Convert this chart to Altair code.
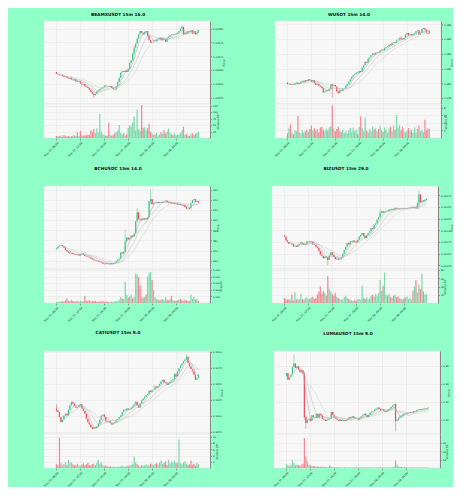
import altair as alt
import pandas as pd

# ---------------- shared axis data ----------------
tick_pos = [0, 16, 32, 48, 64, 80]
tick_labels = ["May 27, 08:00", "May 27, 12:00", "May 27, 16:00",
               "May 27, 20:00", "May 28, 00:00", "May 28, 04:00"]
ma_windows = [5, 10, 17]
ma_colors = ["#a0a0a0", "#b5b5b5", "#c8c8c8"]

# ---------------- BEAMXUSDT ----------------
beamx_title = "BEAMXUSDT 15m 16.0"
beamx_open0 = 0.005644
beamx_close = [
    0.005638, 0.005635, 0.005632, 0.005634, 0.005629, 0.005626, 0.005628, 0.005623, 0.005620, 0.005623,
    0.005617, 0.005614, 0.005617, 0.005611, 0.005608, 0.005610, 0.005602, 0.005599, 0.005601, 0.005593,
    0.005590, 0.005586, 0.005580, 0.005572, 0.005566, 0.005560, 0.005566, 0.005574, 0.005578, 0.005583,
    0.005587, 0.005590, 0.005595, 0.005593, 0.005592, 0.005590, 0.005593, 0.005586, 0.005583, 0.005581,
    0.005593, 0.005608, 0.005623, 0.005641, 0.005647, 0.005644, 0.005649, 0.005644, 0.005656, 0.005677,
    0.005686, 0.005710, 0.005731, 0.005746, 0.005764, 0.005779, 0.005791, 0.005785, 0.005779, 0.005788,
    0.005791, 0.005773, 0.005758, 0.005749, 0.005752, 0.005757, 0.005755, 0.005761, 0.005764, 0.005767,
    0.005758, 0.005764, 0.005761, 0.005752, 0.005767, 0.005770, 0.005776, 0.005779, 0.005778, 0.005779,
    0.005782, 0.005785, 0.005791, 0.005800, 0.005806, 0.005779, 0.005785, 0.005782, 0.005791, 0.005788,
    0.005794, 0.005782, 0.005790, 0.005779, 0.005785, 0.005794]
beamx_vol = [
    8, 6, 7, 10, 5, 12, 9, 6, 8, 7,
    6, 9, 11, 7, 22, 8, 28, 10, 9, 12,
    10, 14, 12, 30, 22, 35, 18, 37, 20, 93,
    25, 15, 12, 8, 10, 59, 14, 9, 12, 18,
    22, 30, 50, 20, 14, 18, 10, 16, 40, 50,
    45, 60, 83, 30, 111, 35, 28, 128, 40, 42,
    30, 38, 55, 25, 18, 12, 15, 20, 10, 14,
    22, 16, 30, 18, 25, 37, 20, 15, 12, 18,
    10, 14, 12, 20, 30, 44, 12, 16, 10, 8,
    14, 18, 12, 16, 20, 25]
beamx_wicks = {25: (0.005551, 0.005566), 84: (0.005800, 0.005812), 52: (0.005705, 0.005738)}
beamx_pticks = [0.00555, 0.00560, 0.00565, 0.00570, 0.00575, 0.00580]
beamx_pdomain = [0.005529, 0.005827]
beamx_vticks = [25, 50, 75, 100, 125]
beamx_vdomain = [0, 132]

# ---------------- WUSDT ----------------
w_title = "WUSDT 15m 14.0"
w_open0 = 0.08012
w_close = [
    0.07990, 0.07995, 0.07979, 0.07990, 0.07984, 0.08001, 0.08012, 0.07990, 0.08001, 0.08023,
    0.08035, 0.08023, 0.08046, 0.08035, 0.08057, 0.08046, 0.08023, 0.08046, 0.08001, 0.07979,
    0.07990, 0.07967, 0.07956, 0.07934, 0.07878, 0.07889, 0.07911, 0.07900, 0.07923, 0.07990,
    0.07967, 0.07979, 0.07956, 0.07889, 0.07867, 0.07911, 0.07900, 0.07928, 0.07934, 0.07967,
    0.07990, 0.08023, 0.08057, 0.08091, 0.08113, 0.08124, 0.08147, 0.08141, 0.08169, 0.08158,
    0.08214, 0.08247, 0.08292, 0.08281, 0.08337, 0.08359, 0.08382, 0.08404, 0.08393, 0.08415,
    0.08427, 0.08421, 0.08449, 0.08460, 0.08449, 0.08483, 0.08494, 0.08505, 0.08527, 0.08516,
    0.08550, 0.08561, 0.08550, 0.08583, 0.08595, 0.08617, 0.08606, 0.08595, 0.08617, 0.08662,
    0.08684, 0.08651, 0.08662, 0.08651, 0.08673, 0.08684, 0.08707, 0.08718, 0.08662, 0.08684,
    0.08740, 0.08751, 0.08729, 0.08684, 0.08673, 0.08718]
w_vol = [
    1.2, 2.5, 3.6, 1.5, 1.0, 2.0, 1.8, 5.8, 1.5, 1.2,
    2.0, 1.4, 1.8, 2.2, 1.6, 2.4, 3.3, 2.0, 2.6, 1.9,
    2.4, 1.5, 2.8, 3.0, 2.2, 1.8, 2.5, 2.0, 2.8, 3.2,
    8.7, 2.6, 1.8, 2.4, 3.0, 2.0, 1.6, 2.2, 1.4, 1.8,
    1.2, 2.0, 2.6, 1.5, 2.8, 1.8, 2.2, 1.0, 3.0, 5.7,
    2.6, 1.8, 5.4, 2.0, 1.5, 2.4, 1.8, 3.0, 2.2, 2.6,
    1.8, 2.4, 3.3, 2.0, 1.6, 2.8, 2.2, 1.5, 2.6, 3.0,
    1.8, 3.3, 2.2, 6.1, 2.8, 3.4, 2.0, 3.0, 1.8, 1.5,
    2.0, 2.6, 1.8, 2.2, 1.4, 2.8, 1.6, 2.4, 3.3, 1.8,
    2.2, 1.5, 4.9, 2.0, 2.6, 2.4]
w_wicks = {30: (0.07808, 0.07995), 76: (0.08590, 0.08640)}
w_pticks = [0.078, 0.080, 0.082, 0.084, 0.086, 0.088]
w_pdomain = [0.077213, 0.088453]
w_vticks = [2, 4, 6, 8]
w_vdomain = [0, 9]

# ---------------- BCHUSDC ----------------
bch_title = "BCHUSDC 15m 14.0"
bch_open0 = 371.0
bch_close = [
    372, 374, 375, 375.5, 374.5, 373, 370.5, 369, 368, 367,
    367.5, 366.5, 366, 365.5, 366, 365, 366.5, 367, 365.5, 364.5,
    364, 363.5, 363, 362, 361, 360.5, 360, 359.5, 359, 358.5,
    358, 357, 356.5, 357.5, 357, 356.5, 357.5, 356.5, 357.5, 358,
    359.5, 361, 362, 368, 367, 369, 379, 383, 381, 382.5,
    385, 384, 387, 399, 408, 401, 400, 401.5, 400.5, 402,
    401, 403, 419, 421, 416, 417, 417.5, 418, 417, 418,
    417.5, 418.5, 419, 419.5, 418, 417, 417.5, 416.5, 417, 416,
    416.5, 415.5, 416, 415, 414.5, 415, 413, 411.5, 411, 412.5,
    417, 420, 421, 418.5, 419, 417.5]
bch_vol = [
    150, 200, 180, 300, 250, 200, 400, 700, 350, 250,
    500, 300, 200, 250, 300, 200, 350, 250, 200, 1100,
    300, 250, 400, 200, 300, 250, 350, 200, 150, 250,
    200, 300, 150, 250, 200, 150, 100, 200, 150, 250,
    300, 250, 500, 900, 700, 600, 3200, 1200, 800, 1000,
    1300, 700, 900, 4500, 4300, 3900, 2700, 1000, 800, 900,
    1300, 4000, 4600, 4700, 3500, 2000, 900, 600, 500, 400,
    500, 600, 400, 900, 500, 400, 600, 1100, 400, 350,
    300, 400, 500, 600, 400, 300, 500, 400, 300, 350,
    1300, 600, 900, 500, 700, 300]
bch_wicks = {46: (368, 391), 54: (398, 412), 63: (416, 431), 90: (410, 418)}
bch_pticks = [360, 370, 380, 390, 400, 410, 420, 430]
bch_pdomain = [351.7, 434]
bch_vticks = [1000, 2000, 3000, 4000, 5000]
bch_vdomain = [0, 5150]

# ---------------- BIZUSDT ----------------
biz_title = "BIZUSDT 15m 29.0"
biz_open0 = 0.011900
biz_close = [
    0.011872, 0.011785, 0.011750, 0.011713, 0.011720, 0.011700, 0.011656, 0.011670, 0.011650, 0.011692,
    0.011710, 0.011740, 0.011720, 0.011690, 0.011710, 0.011760, 0.011770, 0.011750, 0.011764, 0.011700,
    0.011690, 0.011650, 0.011620, 0.011560, 0.011476, 0.011450, 0.011404, 0.011440, 0.011420, 0.011368,
    0.011460, 0.011530, 0.011480, 0.011430, 0.011382, 0.011400, 0.011370, 0.011380, 0.011420, 0.011500,
    0.011584, 0.011650, 0.011728, 0.011700, 0.011764, 0.011750, 0.011785, 0.011760, 0.011740, 0.011800,
    0.011872, 0.011900, 0.011944, 0.011880, 0.011836, 0.011900, 0.011944, 0.011980, 0.012052, 0.012030,
    0.012124, 0.012150, 0.012232, 0.012290, 0.012376, 0.012412, 0.012380, 0.012400, 0.012420, 0.012412,
    0.012448, 0.012440, 0.012462, 0.012450, 0.012484, 0.012470, 0.012460, 0.012470, 0.012462, 0.012470,
    0.012465, 0.012475, 0.012480, 0.012484, 0.012495, 0.012505, 0.012490, 0.012505, 0.012470, 0.012592,
    0.012772, 0.012600, 0.012640, 0.012620, 0.012650, 0.012680]
biz_vol = [
    12, 10, 8, 9, 7, 20, 6, 26, 8, 10,
    9, 22, 10, 8, 12, 14, 9, 11, 13, 15,
    10, 12, 20, 28, 40, 22, 30, 25, 18, 66,
    35, 28, 22, 18, 25, 15, 12, 10, 8, 9,
    14, 18, 12, 10, 8, 6, 5, 7, 6, 9,
    10, 8, 42, 12, 10, 14, 8, 12, 18, 20,
    15, 22, 18, 25, 56, 30, 42, 74, 20, 18,
    22, 15, 12, 18, 20, 14, 16, 12, 10, 8,
    12, 14, 16, 10, 12, 8, 30, 40, 56, 25,
    45, 34, 72, 28, 20, 22]
biz_wicks = {29: (0.011260, 0.011440), 64: (0.012300, 0.012460), 90: (0.012450, 0.012850)}
biz_pticks = [0.01125, 0.01150, 0.01175, 0.01200, 0.01225, 0.01250, 0.01275]
biz_pdomain = [0.011173, 0.012952]
biz_vticks = [20, 40, 60, 80]
biz_vdomain = [0, 83]

# ---------------- CATIUSDT ----------------
cati_title = "CATIUSDT 15m 9.0"
cati_open0 = 0.10115
cati_close = [
    0.10088, 0.10062, 0.09983, 0.09904, 0.09941, 0.10009, 0.10036, 0.10009, 0.10099, 0.10167,
    0.10220, 0.10194, 0.10152, 0.10130, 0.10141, 0.10167, 0.10183, 0.10115, 0.10078, 0.10036,
    0.09957, 0.09904, 0.09867, 0.09825, 0.09798, 0.09825, 0.09809, 0.09835, 0.09878, 0.09941,
    0.10009, 0.10025, 0.09983, 0.09920, 0.09904, 0.09920, 0.09888, 0.09867, 0.09888, 0.09904,
    0.09941, 0.09957, 0.09983, 0.10009, 0.10062, 0.10099, 0.10088, 0.10115, 0.10099, 0.10109,
    0.10130, 0.10152, 0.10183, 0.10220, 0.10167, 0.10130, 0.10194, 0.10246, 0.10273, 0.10299,
    0.10325, 0.10341, 0.10394, 0.10373, 0.10404, 0.10415, 0.10457, 0.10441, 0.10468, 0.10499,
    0.10536, 0.10563, 0.10520, 0.10510, 0.10484, 0.10510, 0.10536, 0.10552, 0.10573, 0.10657,
    0.10615, 0.10694, 0.10747, 0.10784, 0.10816, 0.10852, 0.10879, 0.10921, 0.10826, 0.10773,
    0.10731, 0.10694, 0.10642, 0.10563, 0.10589, 0.10642]
cati_vol = [
    1.2, 0.8, 9.8, 1.5, 0.9, 1.2, 1.8, 1.0, 2.6, 1.5,
    1.8, 1.2, 0.8, 1.0, 1.4, 0.9, 0.7, 1.1, 1.5, 0.8,
    1.2, 1.6, 1.0, 0.8, 1.2, 1.4, 0.9, 1.6, 2.6, 1.3,
    1.8, 1.0, 0.6, 0.8, 0.5, 0.4, 0.6, 0.3, 0.5, 0.4,
    0.3, 0.5, 0.4, 0.6, 0.8, 0.5, 0.4, 0.7, 0.6, 0.8,
    1.0, 1.4, 3.6, 1.8, 1.2, 0.8, 0.6, 1.0, 0.8, 0.9,
    1.2, 0.8, 1.0, 1.4, 1.1, 0.9, 1.3, 1.6, 1.0, 1.8,
    2.4, 1.2, 1.6, 2.2, 1.0, 2.6, 1.4, 2.0, 1.6, 2.4,
    1.5, 1.8, 9.2, 1.6, 1.2, 1.8, 2.2, 1.4, 1.0, 1.2,
    2.4, 1.0, 1.4, 0.8, 1.6, 1.2]
cati_wicks = {87: (0.10880, 0.10958), 0: (0.10060, 0.10180)}
cati_pticks = [0.0975, 0.1000, 0.1025, 0.1050, 0.1075, 0.1100]
cati_pdomain = [0.09720, 0.11011]
cati_vticks = [2, 4, 6, 8, 10]
cati_vdomain = [0, 11]

# ---------------- LUMIAUSDT ----------------
lumia_title = "LUMIAUSDT 15m 9.0"
lumia_open0 = 0.34800
lumia_close = [
    0.35175, 0.34425, 0.34725, 0.34988, 0.35850, 0.36225, 0.35738, 0.35925, 0.35550, 0.35250,
    0.35475, 0.35100, 0.30300, 0.29625, 0.30000, 0.30113, 0.29850, 0.30488, 0.30300, 0.30225,
    0.30675, 0.30225, 0.30675, 0.30488, 0.30113, 0.30000, 0.29850, 0.30000, 0.30113, 0.30075,
    0.30863, 0.30488, 0.30300, 0.30113, 0.30000, 0.29850, 0.30000, 0.29850, 0.29963, 0.29850,
    0.30000, 0.30113, 0.30300, 0.30225, 0.30375, 0.30225, 0.30113, 0.30150, 0.30000, 0.30225,
    0.30375, 0.30488, 0.30675, 0.30488, 0.30300, 0.30563, 0.30788, 0.30900, 0.30975, 0.31125,
    0.31238, 0.31350, 0.31200, 0.31050, 0.31125, 0.30975, 0.30863, 0.30975, 0.31125, 0.31238,
    0.31425, 0.31575, 0.31725, 0.29850, 0.30000, 0.30225, 0.30450, 0.30375, 0.30600, 0.30713,
    0.30675, 0.30788, 0.30750, 0.30863, 0.30788, 0.30975, 0.30938, 0.31050, 0.31125, 0.31088,
    0.31200, 0.31163, 0.31238, 0.31200, 0.31275, 0.31350]
lumia_vol = [
    5, 3, 2.5, 4, 10, 6, 3, 4, 3.5, 2.5,
    4, 5, 36, 14, 8, 4, 3, 2.5, 2, 2,
    1.5, 2, 1.2, 1.8, 1, 1.5, 1.2, 0.8, 1.5, 3,
    1.5, 1, 0.8, 0.6, 0.8, 0.5, 0.7, 0.5, 0.6, 0.8,
    0.5, 0.6, 0.8, 0.5, 0.4, 0.6, 0.5, 0.8, 0.4, 0.6,
    0.8, 0.6, 1, 0.7, 0.5, 0.8, 0.6, 0.9, 0.5, 0.7,
    0.6, 0.8, 0.5, 0.7, 0.6, 0.4, 0.5, 0.6, 0.8, 0.5,
    0.7, 1, 1.5, 9, 4, 2, 1.5, 1.2, 0.8, 1,
    0.8, 0.6, 0.7, 0.5, 0.8, 0.6, 0.5, 0.7, 0.6, 0.5,
    0.6, 0.5, 0.7, 0.6, 0.5, 0.8]
lumia_wicks = {5: (0.35900, 0.37238), 12: (0.30000, 0.35300), 13: (0.28988, 0.30400),
               73: (0.28725, 0.31800)}
lumia_pticks = [0.30, 0.32, 0.34, 0.36]
lumia_pdomain = [0.2842, 0.3761]
lumia_vticks = [10, 20, 30]
lumia_vdomain = [0, 40.8]

# ---------------- styling ----------------
UP = "#3dc985"
DOWN = "#ef4f60"
BG = "#8fffc7"
W_PLOT = 166
H_PRICE = 83
H_VOL = 34
FONT = "DejaVu Sans"

xscale = alt.Scale(domain=[-5, 99.4], nice=False, zero=False)
cscale = alt.Scale(domain=["up", "down"], range=[UP, DOWN])
labels_js = "[" + ",".join("'" + s + "'" for s in tick_labels) + "]"
pos_js = "[" + ",".join(str(p) for p in tick_pos) + "]"
label_expr = labels_js + "[indexof(" + pos_js + ", datum.value)]"


def make_df(open0, closes, vols, wicks):
    rows = []
    prev = open0
    for i, (c, v) in enumerate(zip(closes, vols)):
        o = prev
        hi, lo = max(o, c), min(o, c)
        if i in wicks:
            lo = min(lo, wicks[i][0])
            hi = max(hi, wicks[i][1])
        rows.append(dict(i=i, open=o, close=c, high=hi, low=lo, vol=v,
                         dir="up" if c >= o else "down"))
        prev = c
    return pd.DataFrame(rows)


def panel(title, open0, closes, vols, wicks, pdomain, pticks, pfmt,
          vdomain, vticks, vtitle, toff):
    df = make_df(open0, closes, vols, wicks)
    base = alt.Chart(df)
    x_price = alt.X("i:Q", scale=xscale,
                    axis=alt.Axis(values=tick_pos, labels=False, ticks=False,
                                  domain=False, grid=True, title=None))
    ys = alt.Scale(domain=pdomain, nice=False, zero=False)
    yax = alt.Axis(orient="right", values=pticks, format=pfmt, title="Price", grid=True)
    color = alt.Color("dir:N", scale=cscale, legend=None)

    wick = base.mark_rule(strokeWidth=0.5, clip=True).encode(
        x=x_price, y=alt.Y("low:Q", scale=ys, axis=yax), y2="high:Q", color=color)
    body = base.mark_bar(size=1.25, clip=True).encode(
        x=x_price, y=alt.Y("open:Q", scale=ys, axis=yax), y2="close:Q", color=color)
    layers = [wick, body]
    for w, col in zip(ma_windows, ma_colors):
        ma = base.transform_window(
            ma="mean(close)", n="count()", frame=[-(w - 1), 0],
            sort=[alt.SortField("i")]
        ).transform_filter(alt.datum.n == w).mark_line(
            strokeWidth=0.5, color=col, clip=True
        ).encode(x=x_price, y=alt.Y("ma:Q", scale=ys, axis=yax))
        layers.append(ma)
    price = alt.layer(*layers).properties(
        width=W_PLOT, height=H_PRICE,
        title=alt.TitleParams(title, anchor="middle", frame="group", dx=-9, offset=toff))

    vol = base.mark_bar(size=1.25, opacity=0.65, clip=True).encode(
        x=alt.X("i:Q", scale=xscale,
                axis=alt.Axis(values=tick_pos, labelExpr=label_expr, labelAngle=315,
                              labelAlign="right", labelBaseline="top", labelFontSize=2.7,
                              tickSize=2, grid=True, domain=False, title=None,
                              labelPadding=1)),
        y=alt.Y("vol:Q", scale=alt.Scale(domain=vdomain, nice=False, zero=True),
                axis=alt.Axis(orient="right", values=vticks, title=vtitle, grid=True)),
        color=color,
    ).properties(width=W_PLOT, height=H_VOL)
    return alt.vconcat(price, vol, spacing=0, bounds="flush")


p1 = panel(beamx_title, beamx_open0, beamx_close, beamx_vol, beamx_wicks, beamx_pdomain,
           beamx_pticks, ".5f", beamx_vdomain, beamx_vticks, "Volume  10⁶", 4)
p2 = panel(w_title, w_open0, w_close, w_vol, w_wicks, w_pdomain,
           w_pticks, ".3f", w_vdomain, w_vticks, "Volume  10⁵", 4)
p3 = panel(bch_title, bch_open0, bch_close, bch_vol, bch_wicks, bch_pdomain,
           bch_pticks, "d", bch_vdomain, bch_vticks, "Volume", 15)
p4 = panel(biz_title, biz_open0, biz_close, biz_vol, biz_wicks, biz_pdomain,
           biz_pticks, ".5f", biz_vdomain, biz_vticks, "Volume  10⁵", 15)
p5 = panel(cati_title, cati_open0, cati_close, cati_vol, cati_wicks, cati_pdomain,
           cati_pticks, ".4f", cati_vdomain, cati_vticks, "Volume  10⁶", 15)
p6 = panel(lumia_title, lumia_open0, lumia_close, lumia_vol, lumia_wicks, lumia_pdomain,
           lumia_pticks, ".2f", lumia_vdomain, lumia_vticks, "Volume  10⁵", 15)

HS = 48
chart = alt.vconcat(
    alt.hconcat(p1, p2, spacing=HS),
    alt.hconcat(p3, p4, spacing=HS),
    alt.hconcat(p5, p6, spacing=HS),
    spacing=9,
).configure(
    background=BG,
    padding={"left": 34, "top": 4, "right": 0, "bottom": 0},
).configure_view(
    fill="#f7f7f7", stroke="#dcdcdc", strokeWidth=0.5,
).configure_axis(
    labelFont=FONT, titleFont=FONT, labelFontSize=2.5, titleFontSize=2.8,
    titleFontWeight="normal", labelColor="#222222", titleColor="#222222",
    tickColor="#555555", tickSize=1.5, tickWidth=0.5, gridColor="#e2e2e2",
    gridWidth=0.5, labelPadding=1, titlePadding=2,
).configure_axisRight(
    titleAngle=270, titleBaseline="bottom",
).configure_title(
    font=FONT, fontSize=4.3, fontWeight="bold", color="#111111",
)

chart.save("out.html", embed_options={"renderer": "svg", "actions": False})
